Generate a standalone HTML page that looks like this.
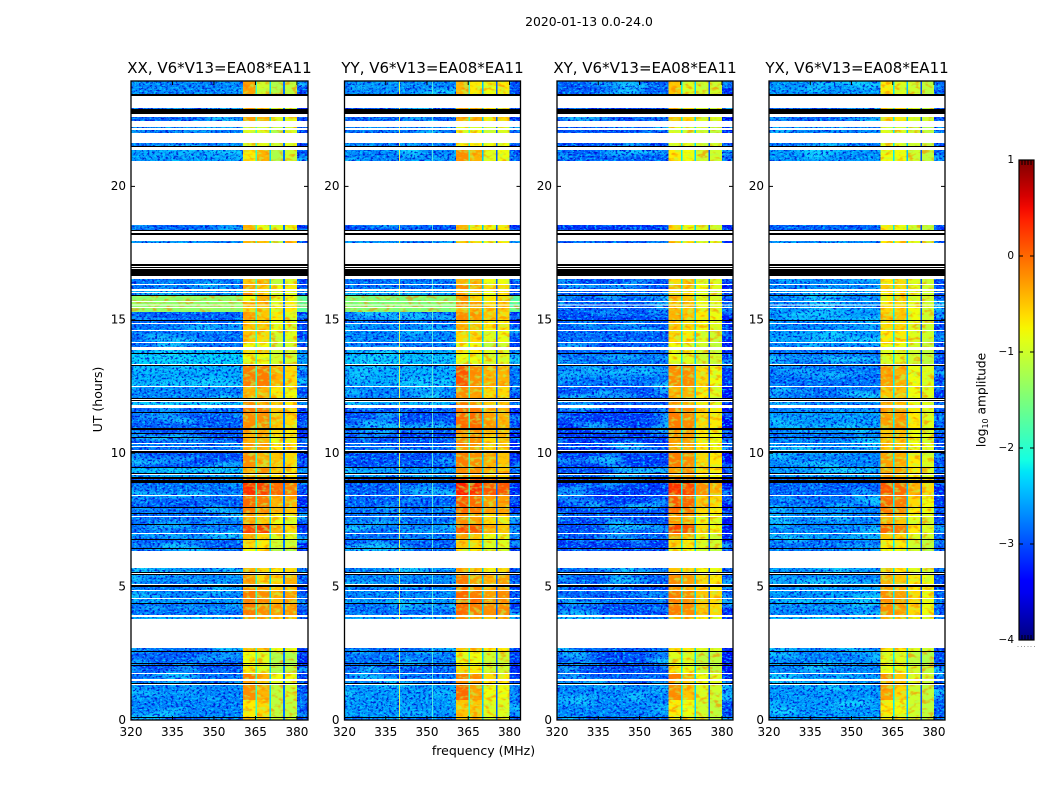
<!DOCTYPE html>
<html lang="en">
<head>
<meta charset="utf-8">
<title>2020-01-13 0.0-24.0</title>
<style>
html,body{margin:0;padding:0;background:#fff;width:1050px;height:800px;overflow:hidden}
svg{display:block}
text{font-family:"DejaVu Sans","Liberation Sans",sans-serif;fill:#000}
</style>
</head>
<body>
<svg id="chart" xmlns="http://www.w3.org/2000/svg" width="1050" height="800" viewBox="0 0 1050 800">
<defs>
<filter id="bgNoise" filterUnits="userSpaceOnUse" x="0" y="0" width="1050" height="800" color-interpolation-filters="sRGB">
<feTurbulence type="fractalNoise" baseFrequency="0.02 0.09" numOctaves="2" seed="3" result="n3"/>
<feColorMatrix in="n3" type="matrix" values="0 0 0 0 0.1  0 0 0 0 0.9  0 0 0 0 1  4 0 0 0 -1.9" result="blob"/>
<feTurbulence type="fractalNoise" baseFrequency="0.38 0.5" numOctaves="2" seed="4" result="n1"/>
<feColorMatrix in="n1" type="matrix" values="0 0 0 0 0  0 0 0 0 0  0 0 0 0 0.8  5 0 0 0 -2.4" result="dark"/>
<feTurbulence type="fractalNoise" baseFrequency="0.35 0.55" numOctaves="2" seed="11" result="n2"/>
<feColorMatrix in="n2" type="matrix" values="0 0 0 0 0  0 0 0 0 0.85  0 0 0 0 1  5 0 0 0 -2.6" result="lite"/>
<feMerge result="specks"><feMergeNode in="blob"/><feMergeNode in="dark"/><feMergeNode in="lite"/></feMerge>
<feComposite in="specks" in2="SourceAlpha" operator="in" result="masked"/>
<feComponentTransfer in="masked" result="soft"><feFuncA type="linear" slope="0.8"/></feComponentTransfer>
<feMerge><feMergeNode in="SourceGraphic"/><feMergeNode in="soft"/></feMerge>
</filter>
<filter id="hotNoise" filterUnits="userSpaceOnUse" x="0" y="0" width="1050" height="800" color-interpolation-filters="sRGB">
<feTurbulence type="fractalNoise" baseFrequency="0.14 0.24" numOctaves="2" seed="7" result="n1"/>
<feColorMatrix in="n1" type="matrix" values="0 0 0 0 1  0 0 0 0 0.5  0 0 0 0 0  5 0 0 0 -2.5" result="warm"/>
<feTurbulence type="fractalNoise" baseFrequency="0.16 0.28" numOctaves="2" seed="21" result="n2"/>
<feColorMatrix in="n2" type="matrix" values="0 0 0 0 0.7  0 0 0 0 1  0 0 0 0 0.3  5 0 0 0 -2.5" result="cool"/>
<feMerge result="specks"><feMergeNode in="warm"/><feMergeNode in="cool"/></feMerge>
<feComposite in="specks" in2="SourceAlpha" operator="in" result="masked"/>
<feComponentTransfer in="masked" result="soft"><feFuncA type="linear" slope="0.6"/></feComponentTransfer>
<feMerge><feMergeNode in="SourceGraphic"/><feMergeNode in="soft"/></feMerge>
</filter>
<linearGradient id="jetGradient" x1="0" y1="0" x2="0" y2="1"></linearGradient>
</defs>
<text x="589" y="26" font-size="12.4" text-anchor="middle">2020-01-13 0.0-24.0</text>
<text x="483.5" y="755" font-size="12.5" text-anchor="middle">frequency (MHz)</text>
<text x="0" y="0" font-size="12.5" text-anchor="middle" transform="translate(102 399.5) rotate(-90)">UT (hours)</text>
<text x="0" y="0" font-size="12.2" text-anchor="middle" transform="translate(985.5 400) rotate(-90)">log<tspan font-size="8" dy="2.5">10</tspan><tspan dy="-2.5"> amplitude</tspan></text>
</svg>
<script>
// Frequency channels (MHz): background, sub-band 1, gap, sub-band 2, gap, sub-band 3, gap, sub-band 4, edge
const freqEdges = [320,360.5,365,365.6,370,370.6,375,375.6,380,384];
const freqTicks = [320,335,350,365,380];
const hourTicks = [0,5,10,15,20];
const colorTicks = [1,0,-1,-2,-3,-4];
const colorMinorCount = [1,2,3,4];

// Time bands holding data (UT hours), top to bottom. Anything not listed is flagged (white).
const bandTop = [23.95,22.94,22.60,22.23,22.11,21.63,21.36,18.55,17.95,16.53,
16.30,16.08,16.00,15.89,15.67,15.54,15.44,15.29,14.95,14.84,
14.58,14.13,13.87,13.72,13.27,12.48,11.92,11.69,11.51,10.87,
10.72,10.57,10.34,10.23,10.01,9.44,9.18,9.03,8.88,8.40,
7.95,7.72,7.61,7.31,6.97,6.75,6.41,5.70,5.43,4.98,
4.83,4.54,4.35,3.86,2.70,2.55,2.10,2.02,1.72,1.46,
1.31,0.75,0.07];
const bandBottom = [23.46,22.90,22.45,22.19,22.00,21.51,20.95,18.37,17.88,16.34,
16.15,16.04,15.93,15.70,15.57,15.48,15.29,14.99,14.88,14.62,
14.17,13.98,13.75,13.34,12.52,12.07,11.81,11.54,10.94,10.76,
10.61,10.38,10.27,10.12,9.48,9.26,9.11,9.00,8.43,7.98,
7.76,7.65,7.35,7.01,6.78,6.45,6.33,5.55,5.10,4.87,
4.57,4.39,3.94,3.79,2.59,2.14,2.06,1.76,1.54,1.39,
0.75,0.11,0];
const blackTop = [23.46,22.90,21.51,18.37,18.25,17.09,16.98,16.90,15.93,14.99,13.75,13.31,12.07,11.99,11.54,10.94,10.76,10.61,10.08,9.48,9.26,9.11,9.00,7.98,7.76,7.35,6.78,6.45,5.55,5.47,5.06,4.39,2.59,2.14,2.06,1.39,0.11];
const blackBottom = [23.39,22.71,21.48,18.33,18.18,17.02,16.94,16.64,15.89,14.95,13.72,13.27,12.03,11.96,11.51,10.87,10.72,10.57,10.01,9.44,9.22,9.03,8.88,7.95,7.72,7.31,6.75,6.41,5.51,5.43,4.98,4.35,2.55,2.10,2.02,1.35,0.07];

// log10 amplitude per band
const bgXX = [-2.7,-3.0,-2.9,-2.7,-2.8,-2.8,-2.6,-2.9,-2.7,-2.8,
-2.8,-2.6,-2.7,-1.4,-1.4,-1.4,-1.4,-2.9,-2.9,-2.8,
-2.8,-2.8,-2.4,-2.3,-2.5,-2.7,-2.4,-2.9,-2.9,-3.0,
-3.0,-3.0,-2.8,-2.8,-3.0,-2.4,-2.6,-2.9,-2.8,-2.9,
-2.8,-2.8,-2.8,-2.8,-2.7,-2.9,-2.8,-2.6,-2.7,-2.8,
-2.7,-2.6,-2.8,-2.5,-2.8,-2.9,-2.9,-3.0,-2.8,-2.8,
-2.7,-2.7,-2.9];
const s1XX = [-.3,-.3,-.3,-1,-.9,-.9,-.7,-.4,-.4,-.5,
-.3,-.5,-.2,-.8,-.4,-.5,-.6,-.3,-.5,-.5,
-.5,-.8,-.6,-.8,-.1,-.4,-.2,-.1,-.2,-.3,
-.4,-.4,-.2,-.4,-.2,-.4,-.5,0,.3,0,
-.1,-.3,-.4,.2,-.4,-.6,-.8,-.4,-.3,-.3,
-.1,-.1,-.1,-.3,-.5,-.8,-.8,-.7,-.1,-.3,
-.2,-.7,-.5];
const s2XX = [-1,-.5,-.4,-1,-.9,-.9,-.4,-.8,-.5,-.4,
-.5,-.6,-.6,-.4,-.4,-.5,-.5,-.5,-.6,-.5,
-.6,-.8,-.5,-.8,-.1,-.4,-.4,-.1,-.2,-.4,
-.3,-.4,-.2,-.4,-.4,-.2,-.5,0,.2,-.1,
-.2,-.5,-.5,.2,-.6,-.7,-.7,-.6,-.6,-.4,
-.2,-.2,-.2,-.3,-.5,-.9,-.8,-.9,-.4,-.5,
-.4,-.6,-.5];
const s3XX = [-1.2,-.9,-.9,-1.1,-1.2,-1,-1.2,-.9,-1.1,-1.1,
-.8,-1,-1,-.9,-.9,-.8,-.9,-.7,-.9,-.8,
-1,-1.1,-1,-1,-.4,-.7,-.5,-.5,-.5,-.6,
-.7,-.8,-.6,-.7,-.5,-.5,-.7,-.1,0,-.4,
-.4,-.7,-.8,-.4,-.9,-1,-1.2,-.7,-.6,-.5,
-.4,-.4,-.3,-.6,-.8,-1.2,-1.2,-1.2,-.8,-.9,
-1.1,-1.1,-1];
const s4XX = [-1.1,-.9,-.8,-1,-.9,-.8,-1,-.8,-.5,-.9,
-.7,-.9,-.8,-.8,-.7,-.7,-.7,-.9,-.9,-.9,
-.9,-1,-1,-1,-.6,-.8,-.7,-.6,-.6,-.7,
-.6,-.7,-.6,-.7,-.6,-.7,-.7,-.3,-.1,-.4,
-.5,-.7,-.9,-.6,-.9,-1,-1.2,-.6,-.4,-.4,
-.3,-.3,-.3,-.5,-.8,-1.2,-1.2,-1.1,-.8,-.9,
-1,-1.1,-1];
const gapXX = [-1.9,-2.3,-2.8];
const spikeFreqXX = [];

const bgYY = [-2.7,-3.0,-2.9,-2.7,-2.8,-2.8,-2.7,-3.0,-2.7,-2.8,
-2.8,-2.6,-2.7,-1.5,-1.5,-1.5,-1.5,-2.9,-2.9,-2.7,
-2.7,-2.8,-2.5,-2.4,-2.5,-2.7,-2.5,-3.0,-3.0,-3.0,
-3.1,-3.0,-2.9,-2.9,-3.0,-2.6,-2.7,-3.0,-2.9,-2.9,
-2.8,-2.8,-2.8,-2.8,-2.8,-2.9,-2.8,-2.7,-2.7,-2.8,
-2.7,-2.6,-2.8,-2.6,-2.8,-2.8,-2.8,-2.9,-2.8,-2.8,
-2.6,-2.6,-2.9];
const s1YY = [-.4,-.3,-.4,-.9,-.8,-.7,-.2,-.4,-.5,-.4,
-.2,-.5,-.3,-.3,-.2,-.3,-.4,-.2,-.4,-.4,
-.6,-.8,-.7,-.8,.1,-.2,-.1,0,0,-.2,
-.3,-.2,-.1,-.3,-.1,-.2,-.3,.2,.4,.1,
0,-.2,-.2,.2,-.3,-.5,-.7,-.4,-.1,-.1,
0,0,0,-.2,-.5,-.8,-.8,-.6,-.1,-.2,
0,-.5,-.5];
const s2YY = [-.7,-.4,-.4,-.9,-.8,-.7,-.4,-.7,-.6,-.4,
-.4,-.5,-.5,-.6,-.3,-.4,-.4,-.3,-.5,-.5,
-.6,-.8,-.7,-.8,-.2,-.3,-.3,-.1,0,-.2,
-.2,-.2,-.2,-.3,-.2,-.2,-.4,.1,.3,0,
-.1,-.3,-.3,.1,-.5,-.6,-.7,-.5,-.3,-.2,
-.1,0,-.1,-.3,-.5,-.8,-.8,-.7,-.2,-.3,
-.3,-.5,-.5];
const s3YY = [-.8,-.7,-.7,-1,-1,-.8,-.9,-.8,-.9,-.8,
-.6,-.8,-.8,-.7,-.6,-.6,-.6,-.5,-.7,-.7,
-.9,-1.1,-.9,-.9,-.4,-.6,-.5,-.4,-.3,-.5,
-.5,-.6,-.5,-.6,-.4,-.4,-.6,0,.1,-.3,
-.3,-.6,-.6,-.4,-.8,-.9,-1,-.7,-.4,-.4,
-.3,-.2,-.2,-.5,-.7,-1,-1,-1,-.6,-.7,
-.8,-.9,-.9];
const s4YY = [-.7,-.6,-.6,-.9,-.9,-.8,-.8,-.7,-.7,-.8,
-.6,-.7,-.7,-.6,-.5,-.5,-.5,-.6,-.7,-.7,
-.8,-1,-.9,-.9,-.4,-.6,-.5,-.4,-.4,-.5,
-.4,-.5,-.5,-.6,-.5,-.5,-.6,-.1,.1,-.3,
-.3,-.5,-.7,-.5,-.8,-.9,-1,-.6,-.3,-.3,
-.2,-.2,-.2,-.4,-.7,-1,-1,-1,-.7,-.7,
-.8,-.9,-.9];
const gapYY = [-1.9,-2.4,-2.9];
const spikeFreqYY = [339.8,351.8];

const bgXY = [-2.9,-3.1,-3.1,-2.9,-3.0,-3.0,-2.9,-3.1,-2.9,-3.0,
-3.0,-2.9,-3.0,-2.9,-2.9,-2.9,-2.9,-3.0,-3.0,-2.9,
-2.9,-3.0,-2.9,-2.8,-2.8,-3.0,-2.9,-3.1,-3.1,-3.1,
-3.1,-3.1,-3.0,-3.1,-3.1,-3.0,-2.9,-3.1,-3.1,-3.1,
-3.0,-2.9,-3.0,-3.0,-2.9,-3.1,-3.0,-2.8,-2.9,-3.0,
-2.9,-2.8,-3.0,-2.8,-2.9,-3.0,-3.0,-3.0,-2.9,-2.9,
-2.7,-2.7,-2.9];
const s1XY = [-.5,-.4,-.5,-.9,-.9,-.9,-.7,-.6,-.5,-.6,
-.4,-.6,-.5,-.5,-.5,-.5,-.4,-.4,-.5,-.5,
-.6,-.8,-.8,-.8,-.2,-.4,-.3,-.1,-.1,-.3,
-.3,-.3,-.3,-.3,-.1,-.3,-.3,.1,.3,.1,
0,-.2,-.3,.2,-.3,-.6,-.8,-.5,-.2,-.3,
-.1,-.1,-.1,-.4,-.6,-.9,-.9,-.7,-.1,-.3,
-.2,-.7,-.7];
const s2XY = [-.9,-.6,-.6,-1,-1,-.9,-.8,-.8,-.7,-.5,
-.5,-.7,-.7,-.5,-.5,-.5,-.5,-.5,-.6,-.6,
-.7,-.9,-.8,-.9,-.2,-.4,-.4,-.2,-.2,-.3,
-.3,-.3,-.3,-.4,-.2,-.2,-.4,.1,.2,0,
-.1,-.3,-.4,.1,-.5,-.7,-.8,-.6,-.3,-.4,
-.2,-.2,-.2,-.4,-.7,-.9,-.9,-.8,-.4,-.5,
-.5,-.8,-.7];
const s3XY = [-1,-.9,-.9,-1,-1,-1,-1,-.9,-.9,-.9,
-.8,-.9,-.9,-.9,-.8,-.8,-.8,-.7,-.8,-.8,
-.9,-1,-1,-1,-.6,-.7,-.7,-.6,-.6,-.7,
-.7,-.7,-.7,-.7,-.6,-.6,-.7,-.3,-.2,-.5,
-.6,-.7,-.8,-.6,-.9,-.9,-1,-.8,-.6,-.6,
-.5,-.5,-.5,-.7,-.9,-1.1,-1.1,-1,-.8,-.8,
-.9,-1,-1];
const s4XY = [-1,-.9,-.9,-1.1,-1.1,-1,-1,-1,-.9,-.9,
-.9,-1,-1,-.9,-.9,-.9,-.9,-.8,-.9,-.9,
-1,-1.1,-1,-1,-.8,-.9,-.9,-.7,-.7,-.8,
-.8,-.8,-.8,-.8,-.7,-.7,-.8,-.5,-.4,-.6,
-.7,-.8,-.9,-.8,-1,-1,-1.1,-.8,-.7,-.7,
-.6,-.6,-.6,-.8,-.9,-1.1,-1.1,-1.1,-.9,-.9,
-1,-1.1,-1.1];
const gapXY = [-2.2,-2.3,-2.9];
const spikeFreqXY = [];

const bgYX = [-2.6,-2.9,-2.9,-2.7,-2.7,-2.8,-2.6,-2.9,-2.7,-2.7,
-2.7,-2.6,-2.7,-2.7,-2.7,-2.7,-2.6,-2.6,-2.7,-2.7,
-2.6,-2.7,-2.8,-2.8,-2.8,-2.8,-2.7,-2.7,-2.6,-2.7,
-2.8,-2.7,-2.7,-2.7,-2.7,-2.6,-2.7,-2.9,-2.9,-2.8,
-2.7,-2.7,-2.7,-2.7,-2.6,-2.8,-2.7,-2.6,-2.7,-2.7,
-2.6,-2.5,-2.7,-2.5,-2.7,-2.7,-2.7,-2.7,-2.6,-2.6,
-2.6,-2.6,-2.7];
const s1YX = [-.7,-.5,-.6,-1,-.9,-.9,-.8,-.7,-.7,-.7,
-.5,-.7,-.7,-.7,-.7,-.6,-.6,-.5,-.6,-.6,
-.7,-.8,-.9,-.9,-.3,-.5,-.4,-.3,-.3,-.5,
-.4,-.5,-.4,-.5,-.3,-.3,-.4,-.1,.1,0,
-.1,-.3,-.4,0,-.5,-.7,-.8,-.6,-.4,-.3,
-.2,-.2,-.2,-.4,-.7,-.9,-.9,-.8,-.2,-.4,
-.3,-.7,-.7];
const s2YX = [-.9,-.6,-.7,-1,-.9,-.9,-.8,-.8,-.7,-.6,
-.6,-.7,-.7,-.6,-.6,-.6,-.6,-.5,-.6,-.6,
-.7,-.8,-.9,-.9,-.4,-.5,-.5,-.3,-.3,-.5,
-.4,-.5,-.5,-.5,-.4,-.3,-.5,-.2,0,-.1,
-.2,-.4,-.5,-.1,-.6,-.7,-.8,-.7,-.5,-.4,
-.3,-.3,-.3,-.5,-.7,-.9,-.9,-.8,-.5,-.5,
-.6,-.8,-.7];
const s3YX = [-1,-.9,-.9,-1.1,-1,-1,-1,-1,-.9,-.9,
-.9,-.9,-.9,-.9,-.9,-.8,-.8,-.8,-.9,-.9,
-.9,-1,-1,-1,-.8,-.8,-.8,-.7,-.7,-.8,
-.8,-.8,-.8,-.8,-.7,-.7,-.8,-.5,-.4,-.6,
-.7,-.8,-.9,-.7,-.9,-1,-1,-.9,-.7,-.7,
-.6,-.6,-.6,-.8,-.9,-1.1,-1.1,-1,-.9,-.9,
-1,-1,-1];
const s4YX = [-1.1,-1,-1,-1.2,-1.1,-1.1,-1.1,-1.1,-1,-1,
-1,-1,-1,-1,-1,-1,-1,-1,-1,-1,
-1,-1.1,-1.1,-1.1,-.9,-.9,-.9,-.9,-.9,-.9,
-.9,-.9,-.9,-.9,-.9,-.9,-.9,-.7,-.6,-.8,
-.8,-.9,-1,-.9,-1,-1.1,-1.2,-1,-.8,-.8,
-.8,-.8,-.8,-.9,-1,-1.2,-1.2,-1.1,-1,-1,
-1.1,-1.1,-1.1];
const gapYX = [-2.2,-2.4,-3.0];
const spikeFreqYX = [];

const titleXX = 'XX, V6*V13=EA08*EA11';
const titleYY = 'YY, V6*V13=EA08*EA11';
const titleXY = 'XY, V6*V13=EA08*EA11';
const titleYX = 'YX, V6*V13=EA08*EA11';

// Scale domains
const freqMin = 320, freqMax = 384, hourMax = 23.95;
const colorMin = -4, colorMax = 1;
const plotTop = 81, plotBottom = 720;
const barLeft = 1019, barRight = 1034, barTop = 160, barBottom = 640;

const NS = 'http://www.w3.org/2000/svg';
const chart = document.getElementById('chart');

function xScale(left, right, f){ return left + (f - freqMin) / (freqMax - freqMin) * (right - left); }
function yScale(h){ return plotBottom - h / hourMax * (plotBottom - plotTop); }
function barScale(v){ return barTop + (colorMax - v) / (colorMax - colorMin) * (barBottom - barTop); }

function ramp(t, pts){
  for (let i = 1; i < pts.length; i++) {
    if (t <= pts[i][0]) {
      const a = pts[i-1], b = pts[i];
      return a[1] + (t - a[0]) / (b[0] - a[0]) * (b[1] - a[1]);
    }
  }
  return pts[pts.length-1][1];
}
function jet(t){
  const r = ramp(t, [[0,0],[.35,0],[.66,1],[.89,1],[1,.5]]);
  const g = ramp(t, [[0,0],[.125,0],[.375,1],[.64,1],[.91,0],[1,0]]);
  const b = ramp(t, [[0,.5],[.11,1],[.34,1],[.65,0],[1,0]]);
  return 'rgb(' + Math.round(r*255) + ',' + Math.round(g*255) + ',' + Math.round(b*255) + ')';
}
function colorOf(v){ return jet(Math.max(0, Math.min(1, (v - colorMin) / (colorMax - colorMin)))); }

function svgEl(tag, parent){
  const e = document.createElementNS(NS, tag);
  parent.appendChild(e);
  return e;
}
function rectAt(e, x0, y0, x1, y1, fill){
  e.setAttribute('x', x0);
  e.setAttribute('y', y0);
  e.setAttribute('width', x1 - x0);
  e.setAttribute('height', y1 - y0);
  e.setAttribute('fill', fill);
  e.setAttribute('shape-rendering', 'crispEdges');
}
function tickLine(parent, x1, y1, x2, y2){
  const t = svgEl('line', parent);
  t.setAttribute('x1', x1);
  t.setAttribute('y1', y1);
  t.setAttribute('x2', x2);
  t.setAttribute('y2', y2);
  t.setAttribute('stroke', '#000');
  t.setAttribute('stroke-width', '1');
  return t;
}

function drawPanel(key, title, left, right, bg, s1, s2, s3, s4, gaps, spikes){
  const g = svgEl('g', chart);
  
  

  const bgGroup = svgEl('g', g);
  
  
  bgGroup.setAttribute('filter', 'url(#bgNoise)');

  const hotGroup = svgEl('g', g);
  
  
  hotGroup.setAttribute('filter', 'url(#hotNoise)');

  const gapGroup = svgEl('g', g);
  
  

  for (let i = 0; i < bandTop.length; i++) {
    const y0 = yScale(bandTop[i]);
    const y1 = yScale(bandBottom[i]);
    const values = [bg[i], s1[i], gaps[0], s2[i], gaps[1], s3[i], gaps[2], s4[i], bg[i] - 0.3];
    for (let c = 0; c < values.length; c++) {
      const quiet = (c === 0 || c === 8) && bg[i] < -2;
      const isGap = c === 2 || c === 4 || c === 6;
      const parent = isGap ? gapGroup : (quiet ? bgGroup : hotGroup);
      const cell = svgEl('rect', parent);
      
      
      rectAt(cell, xScale(left, right, freqEdges[c]), y0, xScale(left, right, freqEdges[c+1]), y1, colorOf(values[c]));
    }
    spikes.forEach(function(f){
      if (bg[i] > -2) return;
      const s = svgEl('rect', g);
      
      
      const x = xScale(left, right, f);
      rectAt(s, x, y0, x + 1, y1, f < 345 ? '#d8f060' : '#50e8e0');
    });
  }

  for (let i = 0; i < blackTop.length; i++) {
    const line = svgEl('rect', g);
    
    
    rectAt(line, left, yScale(blackTop[i]), right, yScale(blackBottom[i]), '#000');
  }

  const frame = svgEl('rect', g);
  
  
  frame.setAttribute('x', left);
  frame.setAttribute('y', plotTop);
  frame.setAttribute('width', right - left);
  frame.setAttribute('height', plotBottom - plotTop);
  frame.setAttribute('fill', 'none');
  frame.setAttribute('stroke', '#000');
  frame.setAttribute('stroke-width', '1.3');

  freqTicks.forEach(function(f){
    const x = xScale(left, right, f);
    const tb = tickLine(g, x, plotBottom, x, plotBottom - 4);
    
    
    const tt = tickLine(g, x, plotTop, x, plotTop + 4);
    
    
    const lab = svgEl('text', g);
    
    
    lab.setAttribute('x', x);
    lab.setAttribute('y', 736);
    lab.setAttribute('font-size', '12');
    lab.setAttribute('text-anchor', 'middle');
    lab.textContent = String(f);
  });

  hourTicks.forEach(function(h){
    const y = yScale(h);
    const tl = tickLine(g, left, y, left + 4, y);
    
    
    const tr = tickLine(g, right, y, right - 4, y);
    
    
    const lab = svgEl('text', g);
    
    
    lab.setAttribute('x', left - 5);
    lab.setAttribute('y', y + 3.8);
    lab.setAttribute('font-size', '12');
    lab.setAttribute('text-anchor', 'end');
    lab.textContent = String(h);
  });

  const t = svgEl('text', g);
  
  
  t.setAttribute('x', (left + right) / 2);
  t.setAttribute('y', 73);
  t.setAttribute('font-size', '15');
  t.setAttribute('text-anchor', 'middle');
  t.textContent = title;
}

drawPanel('xx', titleXX, 131, 308, bgXX, s1XX, s2XX, s3XX, s4XX, gapXX, spikeFreqXX);
drawPanel('yy', titleYY, 344.5, 520.5, bgYY, s1YY, s2YY, s3YY, s4YY, gapYY, spikeFreqYY);
drawPanel('xy', titleXY, 557, 733, bgXY, s1XY, s2XY, s3XY, s4XY, gapXY, spikeFreqXY);
drawPanel('yx', titleYX, 769, 945, bgYX, s1YX, s2YX, s3YX, s4YX, gapYX, spikeFreqYX);

// Colour bar
const grad = document.getElementById('jetGradient');
for (let k = 0; k <= 40; k++) {
  const stop = document.createElementNS(NS, 'stop');
  stop.setAttribute('offset', (k / 40));
  stop.setAttribute('stop-color', jet(1 - k / 40));
  grad.appendChild(stop);
}
const cbar = svgEl('g', chart);


const cbarFill = svgEl('rect', cbar);


cbarFill.setAttribute('x', barLeft);
cbarFill.setAttribute('y', barTop);
cbarFill.setAttribute('width', barRight - barLeft);
cbarFill.setAttribute('height', barBottom - barTop);
cbarFill.setAttribute('fill', 'url(#jetGradient)');
cbarFill.setAttribute('stroke', '#000');
cbarFill.setAttribute('stroke-width', '1.2');

colorTicks.forEach(function(v){
  const y = barScale(v);
  const a = tickLine(cbar, barLeft, y, barLeft + 4, y);
  
  
  const b = tickLine(cbar, barRight, y, barRight - 4, y);
  
  
  const lab = svgEl('text', cbar);
  
  
  lab.setAttribute('x', 1014);
  lab.setAttribute('y', y + 3);
  lab.setAttribute('font-size', '10.5');
  lab.setAttribute('text-anchor', 'end');
  lab.textContent = v < 0 ? '\u2212' + Math.abs(v) : String(v);
});

colorMinorCount.forEach(function(n){
  const x = barLeft + n * (barRight - barLeft) / 5;
  const a = tickLine(cbar, x, barTop, x, barTop + 5);
  
  
  const b = tickLine(cbar, x, barBottom, x, barBottom - 5);
  
  
});

[0,1,2,3,4,5].forEach(function(n){
  const d = svgEl('rect', cbar);
  
  
  rectAt(d, 1017.5 + n * 3.3, 646, 1018.5 + n * 3.3, 647, '#999');
});
</script>
</body>
</html>
